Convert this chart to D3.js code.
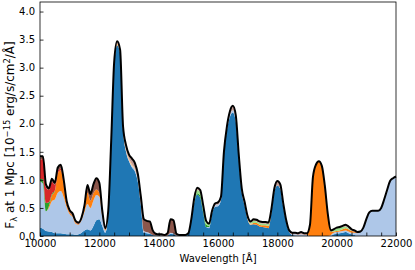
<!DOCTYPE html>
<html>
<head>
<meta charset="utf-8">
<script src="https://cdn.jsdelivr.net/npm/d3@7"></script>
<style>
  body { margin: 0; background: #fff; }
  text { font-family: "DejaVu Sans", sans-serif; }
</style>
</head>
<body>
<div id="chart"></div>
<script>
// wavelength grid, 10000..22000 A in 100 A steps
var wavelengths = d3.range(10000, 22001, 100);

var seriesNames = ["blue", "lightblue", "orange", "lightorange", "green", "lightgreen", "red", "brown", "tan"];
var seriesColors = ["#1f77b4", "#aec7e8", "#ff7f0e", "#ffbb78", "#2ca02c", "#98df8a", "#d62728", "#8c564b", "#c49c94"];

var blue = [
  0.15, 0.13, 0.09, 0.08, 0.07, 0.05, 0.05, 0.05, 0.04, 0.03,
  0.03, 0.03, 0.02, 0.03, 0.06, 0.10, 0.12, 0.10, 0.18, 0.28,
  0.30, 0.18, 0.06, 0.40, 1.66, 3.05, 3.40, 3.26, 1.88, 1.50,
  1.33, 1.22, 1.15, 0.96, 0.55, 0.06, 0.05, 0.04, 0.02, 0.01,
  0.01, 0.01, 0.00, 0.01, 0.04, 0.03, 0.01, 0.01, 0.01, 0.01,
  0.04, 0.27, 0.60, 0.74, 0.68, 0.42, 0.16, 0.14, 0.40, 0.52,
  0.53, 0.64, 1.45, 1.88, 2.12, 2.20, 2.04, 1.37, 0.78, 0.54,
  0.29, 0.20, 0.21, 0.20, 0.17, 0.16, 0.15, 0.14, 0.42, 0.79,
  0.90, 0.84, 0.52, 0.24, 0.07, 0.02, 0.01, 0.00, 0.00, 0.00,
  0.00, 0.00, 0.00, 0.00, 0.00, 0.00, 0.00, 0.00, 0.00, 0.03,
  0.04, 0.05, 0.06, 0.07, 0.05, 0.03, 0.02, 0.00, 0.00, 0.00,
  0.00, 0.00, 0.00, 0.00, 0.00, 0.00, 0.00, 0.00, 0.00, 0.00,
  0.00
];
var lightblue = [
  0.82, 0.80, 0.35, 0.42, 0.55, 0.60, 0.72, 0.75, 0.65, 0.48,
  0.36, 0.31, 0.20, 0.17, 0.22, 0.33, 0.45, 0.40, 0.45, 0.45,
  0.40, 0.17, 0.04, 0.02, 0.00, 0.00, 0.00, 0.00, 0.00, 0.02,
  0.02, 0.03, 0.03, 0.04, 0.03, 0.03, 0.02, 0.01, 0.00, 0.00,
  0.00, 0.00, 0.00, 0.00, 0.02, 0.02, 0.00, 0.00, 0.00, 0.00,
  0.00, 0.00, 0.00, 0.00, 0.00, 0.00, 0.00, 0.02, 0.02, 0.03,
  0.03, 0.02, 0.00, 0.01, 0.03, 0.04, 0.03, 0.02, 0.02, 0.00,
  0.00, 0.00, 0.00, 0.00, 0.00, 0.00, 0.00, 0.00, 0.00, 0.00,
  0.00, 0.00, 0.00, 0.00, 0.00, 0.01, 0.02, 0.02, 0.03, 0.02,
  0.02, 0.00, 0.00, 0.00, 0.00, 0.00, 0.00, 0.00, 0.02, 0.03,
  0.03, 0.03, 0.03, 0.03, 0.03, 0.03, 0.04, 0.05, 0.08, 0.15,
  0.30, 0.42, 0.45, 0.45, 0.45, 0.50, 0.65, 0.82, 0.98, 1.03,
  1.06
];
var orange = [
  0.00, 0.00, 0.00, 0.03, 0.10, 0.15, 0.35, 0.37, 0.22, 0.06,
  0.03, 0.02, 0.02, 0.01, 0.02, 0.06, 0.20, 0.13, 0.13, 0.10,
  0.07, 0.03, 0.02, 0.02, 0.00, 0.00, 0.00, 0.00, 0.00, 0.00,
  0.00, 0.00, 0.00, 0.00, 0.00, 0.00, 0.00, 0.00, 0.00, 0.00,
  0.00, 0.00, 0.00, 0.00, 0.00, 0.00, 0.00, 0.00, 0.00, 0.00,
  0.00, 0.00, 0.00, 0.00, 0.00, 0.00, 0.00, 0.00, 0.00, 0.00,
  0.00, 0.00, 0.00, 0.00, 0.00, 0.00, 0.00, 0.00, 0.00, 0.00,
  0.00, 0.00, 0.02, 0.03, 0.03, 0.03, 0.04, 0.04, 0.01, 0.00,
  0.00, 0.00, 0.00, 0.00, 0.00, 0.00, 0.00, 0.00, 0.00, 0.00,
  0.01, 0.20, 1.05, 1.27, 1.33, 1.25, 0.90, 0.40, 0.06, 0.02,
  0.02, 0.02, 0.03, 0.04, 0.04, 0.03, 0.02, 0.01, 0.00, 0.00,
  0.00, 0.00, 0.00, 0.00, 0.00, 0.00, 0.00, 0.00, 0.00, 0.00,
  0.00
];
var lightorange = [
  0, 0, 0, 0, 0, 0, 0, 0, 0, 0,
  0, 0, 0, 0, 0, 0, 0, 0, 0, 0,
  0, 0, 0, 0, 0.02, 0.02, 0.03, 0.03, 0.03, 0.03,
  0.03, 0.03, 0.02, 0.02, 0, 0, 0, 0, 0, 0,
  0, 0, 0, 0, 0, 0, 0, 0, 0, 0,
  0, 0, 0, 0, 0, 0, 0, 0, 0, 0,
  0, 0, 0, 0, 0, 0, 0, 0, 0, 0,
  0.02, 0.02, 0, 0, 0, 0, 0, 0, 0, 0,
  0, 0, 0, 0, 0, 0, 0, 0, 0, 0,
  0, 0, 0, 0, 0, 0, 0, 0, 0, 0,
  0, 0, 0, 0, 0, 0, 0, 0, 0, 0,
  0, 0, 0, 0, 0, 0, 0, 0, 0, 0,
  0
];
var green = [
  0.05, 0.08, 0.15, 0.07, 0.03, 0.01, 0.00, 0.00, 0.00, 0.00,
  0, 0, 0, 0, 0, 0, 0, 0, 0, 0,
  0, 0, 0, 0, 0, 0, 0, 0, 0, 0,
  0, 0, 0, 0, 0, 0, 0, 0, 0, 0,
  0, 0, 0, 0, 0, 0, 0, 0, 0, 0,
  0, 0, 0, 0.02, 0.04, 0.04, 0.04, 0.02, 0, 0,
  0, 0, 0, 0, 0, 0, 0, 0, 0, 0,
  0, 0, 0, 0, 0, 0, 0, 0, 0, 0,
  0, 0, 0, 0, 0, 0, 0, 0, 0, 0,
  0, 0, 0, 0, 0, 0, 0, 0, 0, 0,
  0, 0, 0, 0, 0, 0, 0, 0, 0, 0,
  0, 0, 0, 0, 0, 0, 0, 0, 0, 0,
  0
];
var lightgreen = [
  0, 0, 0, 0, 0, 0, 0, 0, 0, 0,
  0, 0, 0, 0, 0, 0, 0, 0, 0, 0,
  0, 0, 0, 0, 0, 0, 0, 0, 0, 0,
  0, 0, 0, 0, 0, 0, 0, 0, 0, 0,
  0, 0, 0, 0, 0, 0, 0, 0, 0, 0,
  0, 0.02, 0.04, 0.06, 0.06, 0.06, 0.05, 0.03, 0.02, 0,
  0, 0, 0, 0, 0, 0, 0, 0, 0, 0,
  0, 0.02, 0.04, 0.03, 0.03, 0.03, 0.03, 0.03, 0.01, 0,
  0, 0, 0, 0, 0, 0, 0, 0, 0, 0,
  0, 0, 0, 0, 0, 0, 0, 0, 0.02, 0.04,
  0.05, 0.05, 0.04, 0.03, 0.02, 0.01, 0, 0, 0, 0,
  0, 0, 0, 0, 0, 0, 0, 0, 0, 0,
  0
];
var red = [
  0.33, 0.36, 0.28, 0.22, 0.22, 0.10, 0.05, 0.03, 0.02, 0.00,
  0, 0, 0, 0, 0, 0, 0, 0, 0, 0,
  0, 0, 0, 0, 0, 0, 0, 0, 0, 0,
  0, 0, 0, 0, 0, 0, 0, 0, 0, 0,
  0, 0, 0, 0, 0, 0, 0, 0, 0, 0,
  0, 0, 0, 0, 0, 0, 0, 0, 0, 0,
  0, 0, 0, 0, 0, 0, 0, 0, 0, 0,
  0, 0, 0, 0, 0, 0, 0, 0, 0, 0,
  0, 0, 0, 0, 0, 0, 0, 0, 0, 0,
  0, 0, 0, 0, 0, 0, 0, 0, 0, 0,
  0, 0, 0, 0, 0, 0, 0, 0, 0, 0,
  0, 0, 0, 0, 0, 0, 0, 0, 0, 0,
  0
];
var brown = [
  0.05, 0.05, 0.05, 0.03, 0.05, 0.04, 0.05, 0.07, 0.07, 0.05,
  0.04, 0.04, 0.03, 0.03, 0.03, 0.06, 0.14, 0.12, 0.16, 0.20,
  0.18, 0.07, 0.02, 0.01, 0.02, 0.00, 0.00, 0.00, 0.00, 0.00,
  0.00, 0.00, 0.00, 0.00, 0.12, 0.20, 0.20, 0.21, 0.08, 0.03,
  0.02, 0.02, 0.02, 0.04, 0.24, 0.23, 0.03, 0.01, 0.01, 0.01,
  0.01, 0.01, 0.02, 0.00, 0.00, 0.00, 0.00, 0.00, 0.00, 0.00,
  0, 0, 0, 0, 0, 0, 0, 0, 0, 0,
  0, 0, 0, 0, 0, 0, 0, 0, 0, 0,
  0, 0, 0, 0, 0, 0, 0, 0, 0, 0,
  0, 0, 0, 0, 0, 0, 0, 0, 0, 0,
  0, 0, 0, 0, 0, 0, 0, 0, 0, 0,
  0, 0, 0, 0, 0, 0, 0, 0, 0, 0,
  0
];
var tan = [
  0.02, 0, 0, 0, 0, 0, 0, 0, 0, 0,
  0, 0, 0, 0, 0, 0, 0, 0, 0, 0,
  0, 0, 0, 0, 0, 0.03, 0.04, 0.03, 0.04, 0.07,
  0.07, 0.10, 0.10, 0.08, 0.00, 0.01, 0.00, 0.00, 0.00, 0.00,
  0, 0, 0, 0, 0, 0, 0, 0, 0, 0,
  0, 0, 0.02, 0.04, 0.04, 0.03, 0.02, 0.01, 0.01, 0.03,
  0.04, 0.04, 0.05, 0.06, 0.07, 0.08, 0.08, 0.06, 0.05, 0.06,
  0.04, 0.02, 0.03, 0.03, 0.03, 0.03, 0.03, 0.03, 0.04, 0.06,
  0.08, 0.08, 0.06, 0.04, 0.03, 0.03, 0.03, 0.03, 0.04, 0.03,
  0.02, 0.00, 0.00, 0.00, 0.00, 0.00, 0.00, 0.00, 0.00, 0.00,
  0.01, 0.01, 0.02, 0.03, 0.03, 0.02, 0.02, 0.01, 0.00, 0.00,
  0, 0, 0, 0, 0, 0, 0, 0, 0, 0,
  0
];

var xTicks = [10000, 12000, 14000, 16000, 18000, 20000, 22000];
var yTicks = [0, 0.5, 1.0, 1.5, 2.0, 2.5, 3.0, 3.5, 4.0];

var width = 415,
    height = 270;
var margin = { left: 40, right: 19, top: 2, bottom: 34 };
var plotW = width - margin.left - margin.right,
    plotH = height - margin.top - margin.bottom;

var seriesValues = [blue, lightblue, orange, lightorange, green, lightgreen, red, brown, tan];

var rows = wavelengths.map(function(w, i) {
  var row = { wavelength: w };
  seriesNames.forEach(function(name, k) { row[name] = seriesValues[k][i]; });
  return row;
});

var stack = d3.stack().keys(seriesNames);
var layers = stack(rows);

var x = d3.scaleLinear().domain([10000, 22000]).range([0, plotW]);
var y = d3.scaleLinear().domain([0, 4.17]).range([plotH, 0]);

var svg = d3.select("#chart").append("svg")
    .attr("width", width)
    .attr("height", height);

var g = svg.append("g")
    .attr("transform", "translate(" + margin.left + "," + margin.top + ")");

var area = d3.area()
    .curve(d3.curveMonotoneX)
    .x(function(d) { return x(d.data.wavelength); })
    .y0(function(d) { return y(d[0]); })
    .y1(function(d) { return y(d[1]); });

g.selectAll(".layer")
  .data(layers)
  .enter()
    .append("path")
    .attr("class", "layer")
    .attr("fill", function(d, i) { return seriesColors[i]; })
    .attr("d", area);

var line = d3.line()
    .curve(d3.curveMonotoneX)
    .x(function(d) { return x(d.wavelength); })
    .y(function(d) { return y(d3.sum(seriesNames, function(n) { return d[n]; })); });

g.append("path")
    .datum(rows)
    .attr("fill", "none")
    .attr("stroke", "#000")
    .attr("stroke-width", 2)
    .attr("stroke-linejoin", "round")
    .attr("d", line);

// axes, ticks pointing inward
var xAxis = d3.axisBottom(x)
    .tickValues(d3.range(10000, 22001, 500))
    .tickSizeInner(-3.5)
    .tickSizeOuter(0)
    .tickPadding(3.5)
    .tickFormat(function(d) { return xTicks.indexOf(d) >= 0 ? d : ""; });

var yAxis = d3.axisLeft(y)
    .tickValues(yTicks)
    .tickSizeInner(-3.5)
    .tickSizeOuter(0)
    .tickPadding(5)
    .tickFormat(d3.format(".1f"));

g.append("g")
    .attr("transform", "translate(0," + plotH + ")")
    .call(xAxis)
    .call(styleAxis);

g.append("g")
    .call(yAxis)
    .call(styleAxis);

function styleAxis(sel) {
  sel.select(".domain").remove();
  sel.selectAll(".tick line").attr("stroke", "#000").attr("stroke-width", 0.8);
  sel.selectAll(".tick text")
    .attr("fill", "#000")
    .attr("font-size", "10px")
    .attr("font-family", "DejaVu Sans, sans-serif");
}

// frame
g.append("rect")
    .attr("x", 0)
    .attr("y", 0)
    .attr("width", plotW)
    .attr("height", plotH)
    .attr("fill", "none")
    .attr("stroke", "#000")
    .attr("stroke-width", 0.8);

svg.append("text")
    .attr("x", margin.left + plotW / 2)
    .attr("y", 262)
    .attr("text-anchor", "middle")
    .attr("font-size", "10px")
    .text("Wavelength [Å]");

var ylab = svg.append("text")
    .attr("transform", "translate(14," + 135 + ") rotate(-90)")
    .attr("text-anchor", "middle")
    .attr("font-size", "12px");
ylab.append("tspan").text("F");
ylab.append("tspan").attr("font-size", "8.4px").attr("dy", 2.5).text("λ");
ylab.append("tspan").attr("dy", -2.5).text(" at 1 Mpc [10");
ylab.append("tspan").attr("font-size", "8.4px").attr("dy", -4.5).text("−15");
ylab.append("tspan").attr("dy", 4.5).text(" erg/s/cm");
ylab.append("tspan").attr("font-size", "8.4px").attr("dy", -4.5).text("2");
ylab.append("tspan").attr("dy", 4.5).text("/Å]");
</script>
</body>
</html>
